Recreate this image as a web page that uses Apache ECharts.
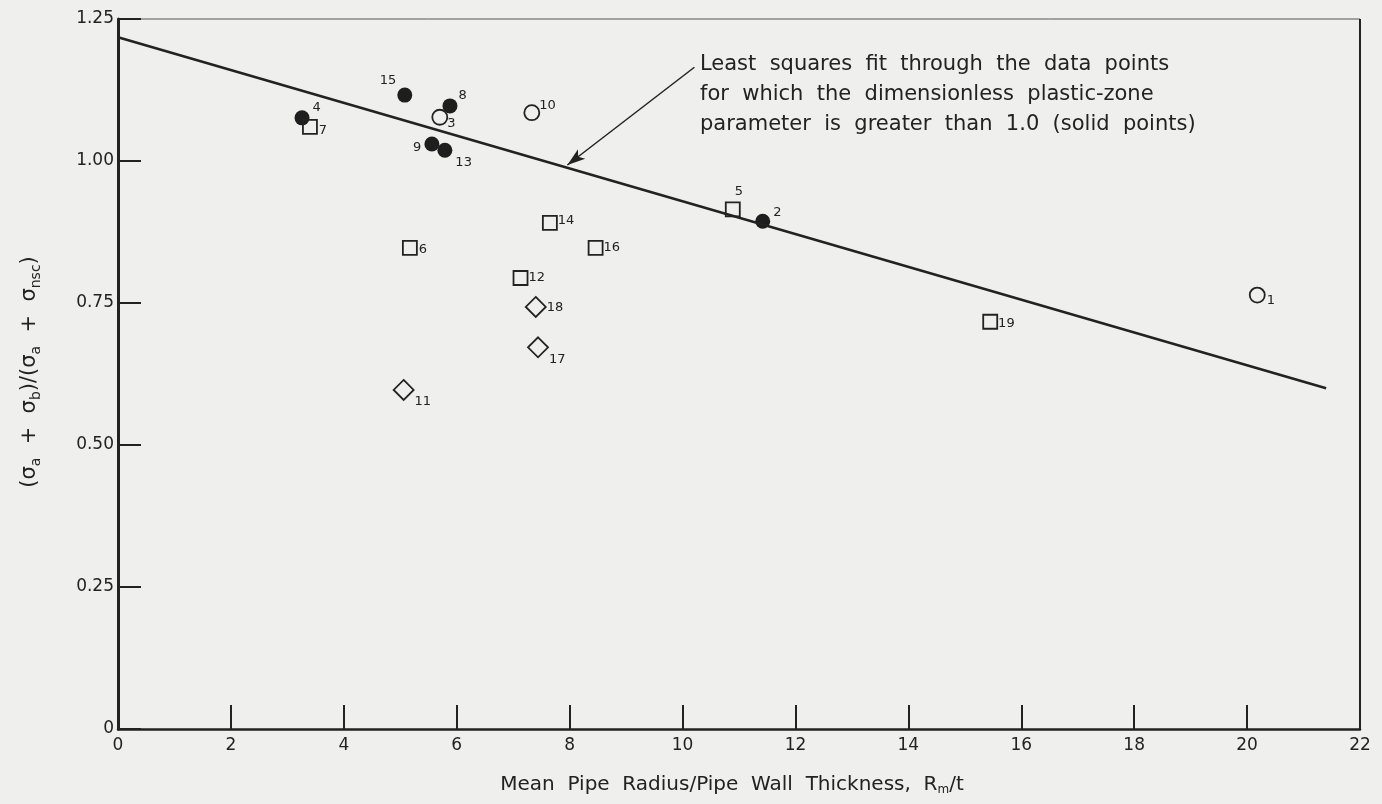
<!DOCTYPE html>
<html><head><meta charset="utf-8">
<script src="https://cdn.jsdelivr.net/npm/echarts@6/dist/echarts.min.js"></script>
<style>html,body{margin:0;padding:0;background:#efefed;}#c{width:1382px;height:804px;}</style>
</head><body><div id="c"></div>
<script>
// Data
const xTicks = [0,2,4,6,8,10,12,14,16,18,20,22];
const yTicks = [0,0.25,0.5,0.75,1.0,1.25];
// solid points (dimensionless plastic-zone parameter > 1.0)
const solidPts = [[3.26,1.076],[5.08,1.116],[5.88,1.097],[5.56,1.030],[5.79,1.019],[11.42,0.894]];
const solidLbl = ['4','15','8','9','13','2'];
const squarePts = [[3.40,1.060],[5.17,0.847],[10.89,0.915],[7.65,0.891],[8.46,0.847],[7.13,0.794],[15.45,0.717]];
const squareLbl = ['7','6','5','14','16','12','19'];
const circlePts = [[5.70,1.077],[7.33,1.085],[20.18,0.764]];
const circleLbl = ['3','10','1'];
const diamondPts = [[7.40,0.743],[7.44,0.672],[5.06,0.597]];
const diamondLbl = ['18','17','11'];
const fitLine = [[0,1.218],[21.4,0.600]];
const arrowFrom = [10.21,1.165];
const arrowTo = [7.96,0.993];
const noteLines = ['Least  squares  fit  through  the  data  points','for  which  the  dimensionless  plastic-zone','parameter  is  greater  than  1.0  (solid  points)'];
const xTitle = ['Mean  Pipe  Radius/Pipe  Wall  Thickness,  R','m','/t'];

// label placement (style)
const lblPos = {
  '4':['right',[0,-10]], '15':['left',[2,-14]], '8':['right',[-2,-10]], '9':['left',[0,4]],
  '13':['right',[0,12]], '2':['right',[0,-9]], '7':['right',[-2,4]], '6':['right',[-2,2]],
  '5':['top',[6,0]], '14':['right',[-3,-2]], '16':['right',[-3,0]], '12':['right',[-3,0]],
  '19':['right',[-3,2]], '3':['right',[-4,6]], '10':['right',[-4,-7]], '1':['right',[-2,6]],
  '18':['right',[-3,1]], '17':['right',[-3,12]], '11':['right',[-3,12]]
};
function mk(pts, lbls){
  return pts.map((p,i)=>({value:p, label:{show:true, formatter:lbls[i], position:lblPos[lbls[i]][0], offset:lblPos[lbls[i]][1]}}));
}
const ink = '#222';
const lblStyle = {color:ink, fontSize:13, fontFamily:'DejaVu Sans', distance:3};
const chart = echarts.init(document.getElementById('c'));
chart.setOption({
  backgroundColor:'#efefed',
  animation:false,
  grid:{left:118,right:22,top:19,bottom:75, show:false},
  xAxis:{type:'value',min:0,max:22,interval:2,
    axisLine:{lineStyle:{color:ink,width:2.5}},
    axisTick:{inside:true,length:24,lineStyle:{color:ink,width:2}},
    axisLabel:{color:ink,fontSize:17,fontFamily:'DejaVu Sans',margin:8},
    splitLine:{show:false}
  },
  yAxis:{type:'value',min:0,max:1.25,interval:0.25,
    axisLine:{lineStyle:{color:ink,width:3}},
    axisTick:{inside:true,length:23,lineStyle:{color:ink,width:2}},
    axisLabel:{color:ink,fontSize:17,fontFamily:'DejaVu Sans',margin:4,
      formatter:v=>v===0?'0':v.toFixed(2)},
    splitLine:{show:false}
  },
  graphic:[
    {type:'line',shape:{x1:118,y1:19,x2:1360,y2:19},style:{stroke:'#555',lineWidth:1}},
    {type:'line',shape:{x1:1360,y1:19,x2:1360,y2:729},style:{stroke:ink,lineWidth:2}},
    {type:'text',left:700,top:50,style:{text:noteLines.join('\n'),fill:ink,font:'21px "DejaVu Sans"',lineHeight:30}},
    {type:'text',x:732,y:785,style:{text:'{a|'+xTitle[0]+'}{s|'+xTitle[1]+'}{a|'+xTitle[2]+'}',align:'center',verticalAlign:'middle',
      rich:{a:{fill:ink,fontSize:20,fontFamily:'DejaVu Sans'},s:{fill:ink,fontSize:12,fontFamily:'DejaVu Sans',padding:[10,0,0,0]}}}},
    {type:'text',x:30,y:372,rotation:Math.PI/2,style:{
      text:'{a|(σ}{s|a}{a|  +  σ}{s|b}{a|)/(σ}{s|a}{a|  +  σ}{s|nsc}{a|)}',align:'center',verticalAlign:'middle',
      rich:{a:{fill:ink,fontSize:21,fontFamily:'DejaVu Sans'},s:{fill:ink,fontSize:14,fontFamily:'DejaVu Sans',padding:[12,0,0,0]}}}}
  ],
  series:[
    {type:'line',data:fitLine,symbol:'none',lineStyle:{color:ink,width:2.5},silent:true,
      markLine:{symbol:['none','arrow'],symbolSize:[9,18],silent:true,label:{show:false},
        lineStyle:{color:ink,width:1.5,type:'solid'},
        data:[[{coord:arrowFrom},{coord:arrowTo}]]}},
    {type:'scatter',data:mk(solidPts,solidLbl),symbol:'circle',symbolSize:15,
      itemStyle:{color:'#1e1e1e',opacity:1},label:lblStyle},
    {type:'scatter',data:mk(squarePts,squareLbl),symbol:'rect',symbolSize:14,
      itemStyle:{color:'rgba(0,0,0,0)',borderColor:ink,borderWidth:1.8,opacity:1},label:lblStyle},
    {type:'scatter',data:mk(circlePts,circleLbl),symbol:'circle',symbolSize:15,
      itemStyle:{color:'rgba(0,0,0,0)',borderColor:ink,borderWidth:1.8,opacity:1},label:lblStyle},
    {type:'scatter',data:mk(diamondPts,diamondLbl),symbol:'diamond',symbolSize:[20,20],
      itemStyle:{color:'rgba(0,0,0,0)',borderColor:ink,borderWidth:1.8,opacity:1},label:lblStyle}
  ]
});
</script></body></html>
